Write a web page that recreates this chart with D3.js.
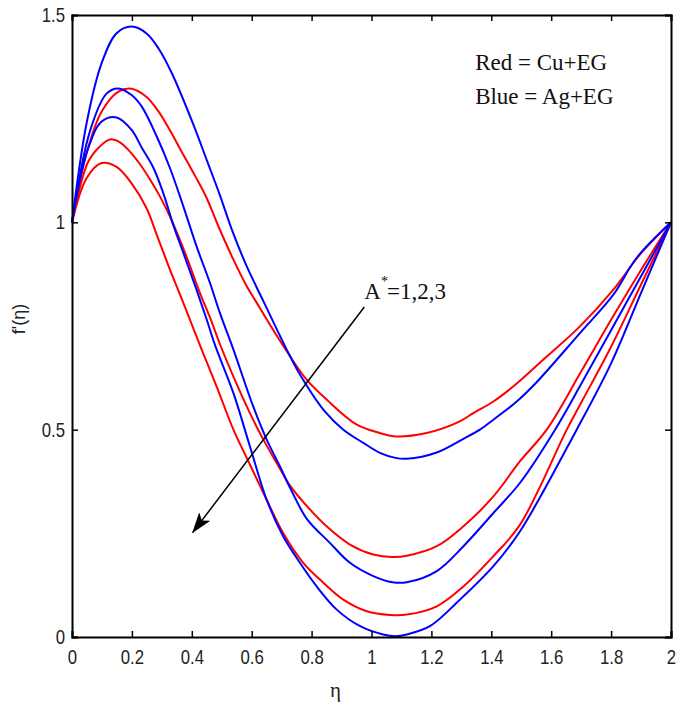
<!DOCTYPE html>
<html lang="en">
<head>
  <meta charset="UTF-8">
  <title>f'(eta) profiles, Cu+EG vs Ag+EG</title>
  <script src="https://d3js.org/d3.v7.min.js"></script>
  <style>
    body { margin: 0; background: #fff; }
    .tick-label { font-family: "Liberation Sans", Arial, sans-serif; font-size: 20px; fill: #222; }
    .curve { fill: none; stroke-width: 2px; stroke-linejoin: round; }
    .legend-text { font-family: "Liberation Serif", "Times New Roman", serif; font-size: 23px; fill: #111; }
  </style>
</head>
<body>
<div id="chart"></div>
<script>
  // eta ticks and f'(eta) ticks
  const xTicks = [0, 0.2, 0.4, 0.6, 0.8, 1, 1.2, 1.4, 1.6, 1.8, 2];
  const yTicks = [0, 0.5, 1, 1.5];

  // Cu+EG (red), A* = 1, 2, 3  -- [eta, f'(eta)]
  const cu1 = [[0,1],[0.05,1.17],[0.099,1.267],[0.155,1.315],[0.199,1.322],[0.249,1.302],[0.288,1.268],[0.327,1.222],[0.361,1.177],[0.411,1.112],[0.45,1.058],[0.489,0.99],[0.539,0.91],[0.584,0.845],[0.611,0.813],[0.661,0.753],[0.728,0.677],[0.784,0.62],[0.851,0.572],[0.951,0.512],[1.028,0.492],[1.073,0.484],[1.184,0.492],[1.295,0.52],[1.34,0.54],[1.407,0.568],[1.473,0.604],[1.574,0.669],[1.696,0.749],[1.807,0.837],[1.896,0.922],[2,1]];
  const cu2 = [[0,1],[0.054,1.146],[0.093,1.183],[0.127,1.2],[0.16,1.193],[0.194,1.17],[0.227,1.14],[0.26,1.104],[0.294,1.062],[0.327,1.014],[0.35,0.976],[0.383,0.916],[0.427,0.83],[0.461,0.77],[0.494,0.706],[0.539,0.628],[0.594,0.54],[0.639,0.476],[0.683,0.42],[0.728,0.365],[0.795,0.307],[0.85,0.267],[0.928,0.223],[1.006,0.199],[1.07,0.193],[1.118,0.196],[1.218,0.219],[1.307,0.267],[1.407,0.339],[1.496,0.424],[1.585,0.5],[1.7,0.64],[1.8,0.765],[1.9,0.885],[2,1]];
  const cu3 = [[0,1],[0.049,1.107],[0.099,1.143],[0.149,1.134],[0.199,1.094],[0.249,1.034],[0.283,0.97],[0.327,0.886],[0.372,0.805],[0.433,0.693],[0.483,0.604],[0.539,0.5],[0.594,0.416],[0.65,0.331],[0.705,0.251],[0.772,0.179],[0.839,0.131],[0.906,0.09],[0.984,0.062],[1.062,0.053],[1.118,0.054],[1.218,0.074],[1.307,0.122],[1.407,0.195],[1.496,0.271],[1.652,0.5],[1.7,0.565],[1.8,0.7],[1.9,0.85],[2,1]];

  // Ag+EG (blue), A* = 1, 2, 3
  const ag1 = [[0,1],[0.049,1.24],[0.099,1.384],[0.149,1.456],[0.199,1.472],[0.25,1.455],[0.29,1.418],[0.333,1.36],[0.404,1.238],[0.45,1.15],[0.494,1.065],[0.534,0.982],[0.584,0.893],[0.639,0.81],[0.717,0.693],[0.761,0.633],[0.844,0.544],[0.906,0.5],[0.973,0.468],[1.028,0.444],[1.08,0.432],[1.118,0.43],[1.218,0.445],[1.307,0.478],[1.362,0.5],[1.407,0.524],[1.485,0.568],[1.552,0.615],[1.696,0.733],[1.807,0.825],[1.885,0.914],[2,1]];
  const ag2 = [[0,1],[0.06,1.22],[0.116,1.311],[0.155,1.323],[0.199,1.307],[0.233,1.279],[0.283,1.207],[0.327,1.131],[0.372,1.038],[0.416,0.942],[0.461,0.853],[0.494,0.781],[0.539,0.693],[0.605,0.556],[0.65,0.476],[0.694,0.412],[0.728,0.36],[0.784,0.285],[0.861,0.227],[0.928,0.179],[1.006,0.147],[1.07,0.132],[1.118,0.132],[1.218,0.159],[1.307,0.219],[1.407,0.299],[1.496,0.372],[1.613,0.5],[1.7,0.61],[1.8,0.74],[1.9,0.87],[2,1]];
  const ag3 = [[0,1],[0.05,1.17],[0.099,1.243],[0.149,1.253],[0.199,1.223],[0.233,1.18],[0.272,1.131],[0.305,1.07],[0.338,0.994],[0.372,0.926],[0.416,0.837],[0.45,0.765],[0.477,0.705],[0.539,0.588],[0.594,0.46],[0.65,0.331],[0.705,0.243],[0.761,0.179],[0.817,0.122],[0.884,0.066],[0.962,0.026],[1.039,0.006],[1.08,0.002],[1.118,0.006],[1.195,0.026],[1.295,0.09],[1.407,0.171],[1.496,0.255],[1.685,0.5],[1.8,0.66],[1.9,0.83],[2,1]];

  const series = [
    { name: "Cu+EG A*=1", color: "#ff0000", values: cu1 },
    { name: "Cu+EG A*=2", color: "#ff0000", values: cu2 },
    { name: "Cu+EG A*=3", color: "#ff0000", values: cu3 },
    { name: "Ag+EG A*=1", color: "#0000ff", values: ag1 },
    { name: "Ag+EG A*=2", color: "#0000ff", values: ag2 },
    { name: "Ag+EG A*=3", color: "#0000ff", values: ag3 }
  ];

  // annotation arrow (start, tip) in data units
  const arrowFrom = [0.976, 0.796];
  const arrowTo = [0.403, 0.252];

  const margin = { top: 15, right: 7, bottom: 74, left: 72 };
  const width = 678 - margin.left - margin.right;
  const height = 711 - margin.top - margin.bottom;

  const svg = d3.select("#chart")
    .append("svg")
    .attr("width", 678)
    .attr("height", 711)
    .append("g")
    .attr("transform", `translate(${margin.left},${margin.top})`);

  const x = d3.scaleLinear().domain([0, 2]).range([0, width]);
  const y = d3.scaleLinear().domain([0, 1.5]).range([height, 0]);

  // curves
  const line = d3.line()
    .x(d => x(d[0]))
    .y(d => y(d[1]))
    .curve(d3.curveCatmullRom.alpha(0.5));

  svg.selectAll(".curve")
    .data(series)
    .enter()
    .append("path")
    .attr("class", "curve")
    .attr("stroke", d => d.color)
    .attr("d", d => line(d.values));

  // axes, ticks pointing inward on all four sides
  const fmt = d => d3.format("~g")(d);

  const xAxis = svg.append("g")
    .attr("transform", `translate(0,${height})`)
    .call(d3.axisBottom(x).tickValues(xTicks).tickSize(-6).tickPadding(13).tickFormat(fmt));
  const xTop = svg.append("g")
    .call(d3.axisTop(x).tickValues(xTicks).tickSize(-6).tickFormat(""));
  const yAxis = svg.append("g")
    .call(d3.axisLeft(y).tickValues(yTicks).tickSize(-6).tickPadding(7).tickFormat(fmt));
  const yRight = svg.append("g")
    .attr("transform", `translate(${width},0)`)
    .call(d3.axisRight(y).tickValues(yTicks).tickSize(-6).tickFormat(""));

  [xAxis, xTop, yAxis, yRight].forEach(g => {
    g.select(".domain").attr("stroke", "#000").attr("stroke-width", 2);
    g.selectAll(".tick line").attr("stroke", "#000").attr("stroke-width", 1.5);
    g.selectAll(".tick text")
      .attr("class", "tick-label")
      .attr("font-size", null).attr("font-family", null).attr("fill", null)
      .each(function () {
        // narrow the digits like the original figure
        const t = d3.select(this);
        const x0 = +t.attr("x") || 0;
        t.attr("x", 0).attr("transform", `translate(${x0},0) scale(0.84,1)`);
      });
  });

  // axis labels
  svg.append("text")
    .attr("x", width / 2 - 36)
    .attr("y", height + 60)
    .attr("text-anchor", "middle")
    .attr("font-family", "'Liberation Serif', serif")
    .attr("font-size", 21)
    .attr("fill", "#222")
    .text("η");

  svg.append("text")
    .attr("transform", `translate(${-47},${y(0.75) - 7}) rotate(-90)`)
    .attr("text-anchor", "middle")
    .attr("font-family", "'Liberation Sans', Arial, sans-serif")
    .attr("font-size", 18)
    .attr("fill", "#222")
    .text("f'(η)");

  // legend text
  const legend = svg.append("g")
    .attr("transform", `translate(${x(1.346)},${y(1.367)})`);
  legend.append("text").attr("class", "legend-text").attr("x", 0).attr("y", 0).text("Red  = Cu+EG");
  legend.append("text").attr("class", "legend-text").attr("x", 0).attr("y", 34).text("Blue = Ag+EG");

  // arrow annotation
  svg.append("defs").append("marker")
    .attr("id", "head")
    .attr("viewBox", "0 -8 22 16")
    .attr("refX", 20)
    .attr("refY", 0)
    .attr("markerWidth", 22)
    .attr("markerHeight", 16)
    .attr("markerUnits", "userSpaceOnUse")
    .attr("orient", "auto")
    .append("path")
    .attr("d", "M0,-7 L21,0 L0,7 L5,0 Z")
    .attr("fill", "#000");

  svg.append("line")
    .attr("x1", x(arrowFrom[0]))
    .attr("y1", y(arrowFrom[1]))
    .attr("x2", x(arrowTo[0]))
    .attr("y2", y(arrowTo[1]))
    .attr("stroke", "#000")
    .attr("stroke-width", 1.5)
    .attr("marker-end", "url(#head)");

  const ann = svg.append("text")
    .attr("class", "legend-text")
    .attr("x", x(arrowFrom[0]))
    .attr("y", y(arrowFrom[1]) - 8);
  ann.append("tspan").text("A");
  ann.append("tspan").attr("dy", -13).attr("font-size", 14).text("*");
  ann.append("tspan").attr("dy", 13).attr("dx", -1).text("=1,2,3");
</script>
</body>
</html>
